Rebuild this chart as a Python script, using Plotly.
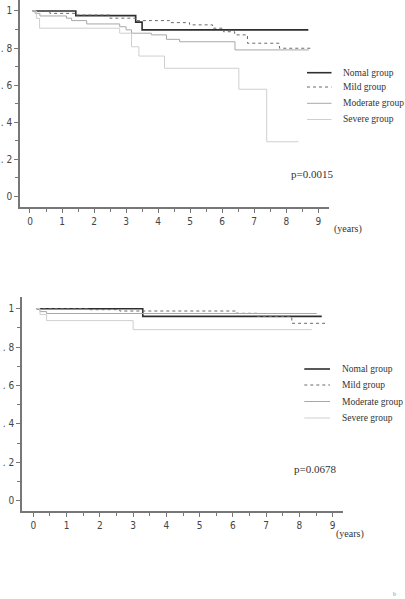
import plotly.graph_objects as go

# ---------------- data ----------------
groups = ["Nomal group", "Mild group", "Moderate group", "Severe group"]

# Panel a (top)
a_normal_t = [0.08, 1.43, 3.30, 3.50, 8.69]
a_normal_s = [1.00, 0.975, 0.940, 0.898, 0.898]
a_mild_t = [0.08, 0.62, 1.43, 2.49, 3.33, 4.36, 4.98, 5.08, 5.70, 6.04, 6.39, 6.79, 7.79, 8.79]
a_mild_s = [1.00, 0.987, 0.978, 0.961, 0.948, 0.937, 0.928, 0.925, 0.907, 0.888, 0.871, 0.826, 0.799, 0.799]
a_mod_t = [0.08, 0.16, 0.31, 1.14, 1.30, 1.77, 2.80, 3.00, 3.17, 3.79, 4.26, 4.67, 6.40, 8.70]
a_mod_s = [1.00, 0.987, 0.973, 0.961, 0.948, 0.930, 0.915, 0.898, 0.880, 0.871, 0.847, 0.834, 0.790, 0.790]
a_sev_t = [0.08, 0.20, 0.30, 2.80, 3.17, 3.40, 4.20, 6.52, 7.39, 8.38]
a_sev_s = [1.00, 0.960, 0.907, 0.880, 0.807, 0.757, 0.691, 0.578, 0.295, 0.295]
a_p = "p=0.0015"

# Panel b (bottom)
b_normal_t = [0.10, 3.29, 8.67]
b_normal_s = [1.00, 0.960, 0.960]
b_mild_t = [0.10, 1.70, 2.60, 6.12, 6.72, 7.77, 8.77]
b_mild_s = [1.00, 0.995, 0.988, 0.976, 0.960, 0.924, 0.924]
b_mod_t = [0.10, 0.20, 0.40, 8.52]
b_mod_s = [1.00, 0.985, 0.975, 0.975]
b_sev_t = [0.10, 0.20, 0.40, 3.00, 8.37]
b_sev_s = [1.00, 0.970, 0.938, 0.891, 0.891]
b_p = "p=0.0678"

x_ticks = [0, 1, 2, 3, 4, 5, 6, 7, 8, 9]
y_tickvals = [0, 0.2, 0.4, 0.6, 0.8, 1.0]
y_ticktext = ["0", ". 2", ". 4", ". 6", ". 8", "1"]

# ---------------- styling ----------------
styles = [
    dict(color="#2e2e2e", width=1.6, dash="solid"),
    dict(color="#6a6a6a", width=1.0, dash="dot"),
    dict(color="#a8a8a8", width=1.0, dash="solid"),
    dict(color="#cfcfcf", width=1.0, dash="solid"),
]
AX = "#777777"
TICKFONT = dict(family="Liberation Sans Narrow, Arial Narrow, DejaVu Sans Condensed, sans-serif", size=10, color="#444444")
SERIF = "Liberation Serif, Times New Roman, serif"

W, H = 405, 599

fig = go.Figure()

panel_a = [(a_normal_t, a_normal_s), (a_mild_t, a_mild_s), (a_mod_t, a_mod_s), (a_sev_t, a_sev_s)]
panel_b = [(b_normal_t, b_normal_s), (b_mild_t, b_mild_s), (b_mod_t, b_mod_s), (b_sev_t, b_sev_s)]

for i, (t, s) in enumerate(panel_a):
    fig.add_trace(go.Scatter(x=t, y=s, mode="lines", line_shape="hv", line=styles[i],
                             name=groups[i], xaxis="x", yaxis="y", showlegend=False))
for i, (t, s) in enumerate(panel_b):
    fig.add_trace(go.Scatter(x=t, y=s, mode="lines", line_shape="hv", line=styles[i],
                             name=groups[i], xaxis="x2", yaxis="y2", showlegend=False))


def px_x(p):
    return p / W


def px_y(p):
    return 1 - p / H


def xaxis(domain, rng, anchor):
    return dict(domain=domain, range=rng, anchor=anchor, showgrid=False, zeroline=False,
                showline=True, linecolor=AX, linewidth=1.5, ticks="outside", ticklen=4,
                tickcolor=AX, tickwidth=1, tickvals=x_ticks, tickfont=TICKFONT,
                minor=dict(dtick=0.5, tick0=0, ticks="outside", ticklen=3, tickcolor=AX, showgrid=False))


def yaxis(domain, rng, anchor):
    return dict(domain=domain, range=rng, anchor=anchor, showgrid=False, zeroline=False,
                showline=True, linecolor=AX, linewidth=1.5, ticks="outside", ticklen=4,
                tickcolor=AX, tickwidth=1, tickvals=y_tickvals, ticktext=y_ticktext,
                tickfont=TICKFONT,
                minor=dict(dtick=0.1, tick0=0, ticks="outside", ticklen=3, tickcolor=AX, showgrid=False))


fig.update_layout(
    width=W, height=H, margin=dict(l=0, r=0, t=0, b=0),
    paper_bgcolor="white", plot_bgcolor="white",
    xaxis=xaxis([px_x(20), px_x(329)], [-0.312, 9.335], "y"),
    yaxis=yaxis([px_y(207), 1.0], [-0.0566, 1.059], "x"),
    xaxis2=xaxis([px_x(22), px_x(342.7)], [-0.34, 9.30], "y2"),
    yaxis2=yaxis([px_y(511.3), px_y(297)], [-0.0552, 1.061], "x2"),
    showlegend=False,
)

# legends (key lines + labels), one for each panel
legend_layout = [
    dict(x0=307, x1=331.5, tx=341, size=9.5, rows=[72.7, 87, 103.3, 119.5]),
    dict(x0=304.3, x1=330, tx=340, size=9.5, rows=[369, 385, 401.5, 418]),
]
for lg in legend_layout:
    for i, yy in enumerate(lg["rows"]):
        fig.add_shape(type="line", xref="paper", yref="paper",
                      x0=px_x(lg["x0"]), x1=px_x(lg["x1"]), y0=px_y(yy), y1=px_y(yy),
                      line=dict(color=styles[i]["color"], width=styles[i]["width"], dash=styles[i]["dash"]))
        fig.add_annotation(text=groups[i], x=px_x(lg["tx"]), y=px_y(yy), xref="paper", yref="paper",
                           showarrow=False, xanchor="left", yanchor="middle",
                           font=dict(family=SERIF, size=lg["size"], color="#333333"))

ann = [
    (a_p, 312, 174, 11),
    (b_p, 315, 469, 11),
    ("(years)", 348, 229, 10),
    ("(years)", 350, 534, 10),
]
for text, x, y, size in ann:
    fig.add_annotation(text=text, x=px_x(x), y=px_y(y), xref="paper", yref="paper",
                       showarrow=False, font=dict(family=SERIF, size=size, color="#333333"),
                       xanchor="center", yanchor="middle")
fig.add_annotation(text="b", x=px_x(394), y=px_y(594), xref="paper", yref="paper", showarrow=False,
                   font=dict(family=SERIF, size=6, color="#888888"), xanchor="center", yanchor="middle")

fig.write_html("out.html")
